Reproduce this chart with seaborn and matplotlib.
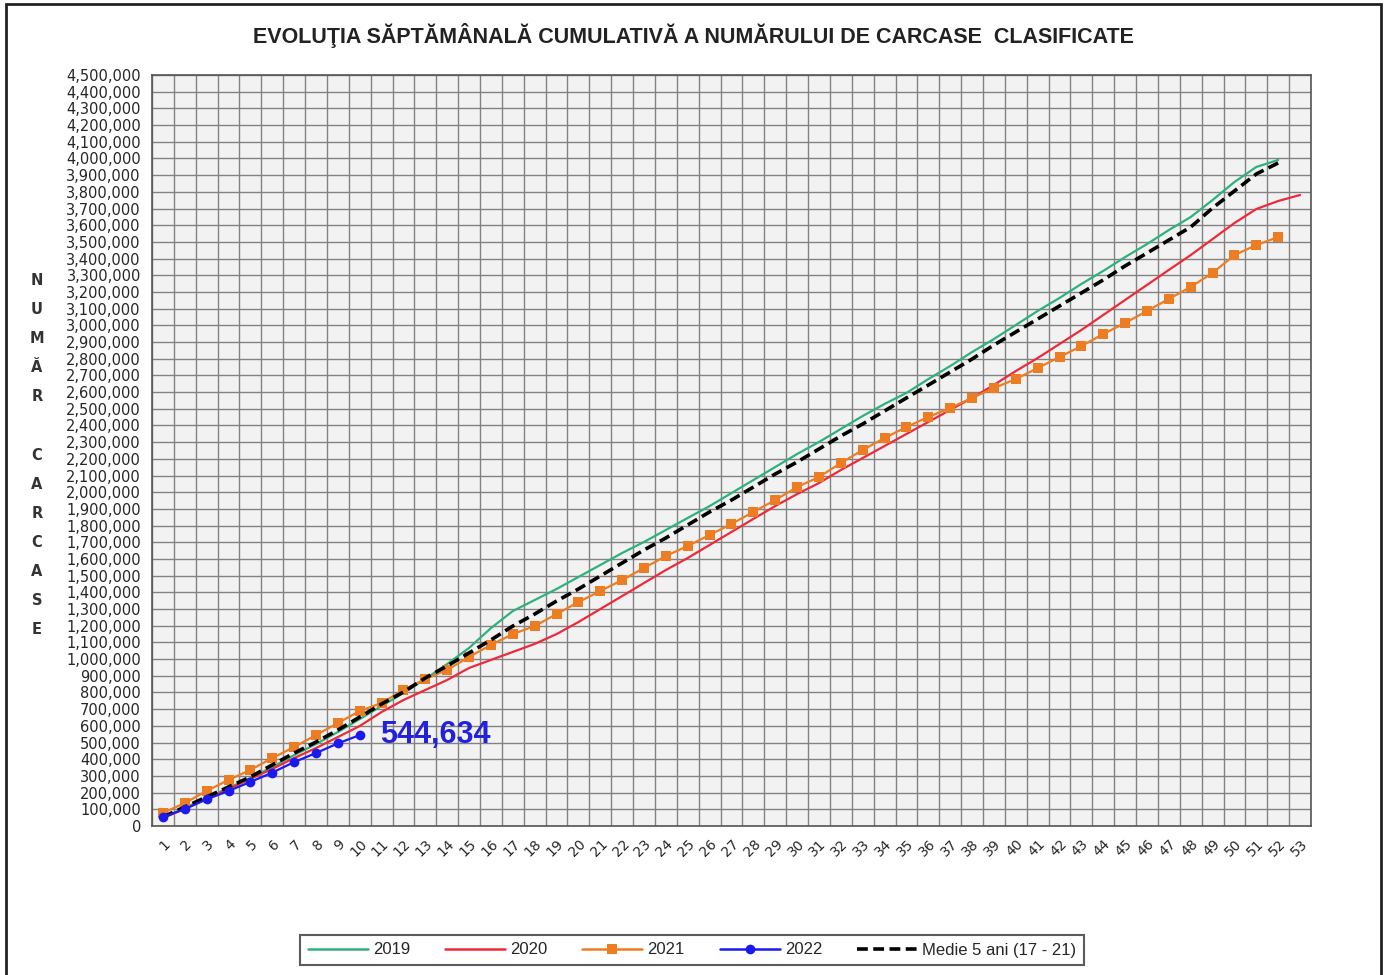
import matplotlib
matplotlib.use("Agg")
import matplotlib.pyplot as plt
import seaborn as sns
from matplotlib.ticker import FuncFormatter, MultipleLocator
from matplotlib.lines import Line2D
from matplotlib.patches import Rectangle

# Saptamani (1 - 53)
weeks = list(range(1, 54))

# Valori cumulative
v2019 = [48000, 108000, 168000, 228000, 288000, 354000, 425000, 491000, 563000, 641000,
         719000, 797000, 881000, 971000, 1067000, 1186000, 1288000, 1354000, 1420000, 1492000,
         1564000, 1636000, 1702000, 1774000, 1846000, 1917000, 1995000, 2073000, 2151000, 2229000,
         2301000, 2379000, 2457000, 2529000, 2595000, 2678000, 2756000, 2840000, 2918000, 3002000,
         3086000, 3164000, 3248000, 3326000, 3409000, 3487000, 3571000, 3649000, 3751000, 3859000,
         3949000, 3991000]
v2020 = [48000, 102000, 162000, 222000, 282000, 342000, 407000, 467000, 533000, 599000,
         683000, 755000, 815000, 875000, 947000, 995000, 1043000, 1091000, 1150000, 1222000,
         1300000, 1378000, 1456000, 1534000, 1606000, 1684000, 1762000, 1840000, 1917000, 1989000,
         2055000, 2133000, 2205000, 2277000, 2349000, 2421000, 2493000, 2565000, 2643000, 2726000,
         2804000, 2888000, 2972000, 3062000, 3152000, 3242000, 3332000, 3421000, 3517000, 3613000,
         3697000, 3745000, 3781000]
v2021 = [78000, 138000, 210000, 276000, 336000, 407000, 473000, 545000, 617000, 689000,
         737000, 815000, 881000, 935000, 1013000, 1085000, 1150000, 1198000, 1270000, 1342000,
         1408000, 1474000, 1546000, 1618000, 1678000, 1744000, 1810000, 1882000, 1953000, 2031000,
         2091000, 2175000, 2253000, 2325000, 2391000, 2451000, 2505000, 2565000, 2624000, 2678000,
         2744000, 2810000, 2876000, 2948000, 3014000, 3086000, 3158000, 3230000, 3314000, 3421000,
         3481000, 3529000]
v2022 = [54000, 102000, 160000, 210000, 264000, 320000, 383000, 437000, 495000, 544634]
medie = [54000, 114000, 174000, 234000, 294000, 366000, 437000, 503000, 575000, 653000,
         731000, 803000, 887000, 959000, 1037000, 1115000, 1198000, 1270000, 1348000, 1420000,
         1498000, 1576000, 1654000, 1726000, 1804000, 1882000, 1953000, 2031000, 2109000, 2181000,
         2259000, 2337000, 2409000, 2487000, 2565000, 2642000, 2720000, 2798000, 2882000, 2960000,
         3038000, 3116000, 3194000, 3272000, 3356000, 3433000, 3511000, 3589000, 3703000, 3805000,
         3907000, 3973000]

sns.set_style("white")
plt.rcParams['font.family'] = ['DejaVu Sans']

fig = plt.figure(figsize=(13.87, 9.75), dpi=100)
ax = fig.add_axes([152/1387, 1 - 826/975, (1311 - 152)/1387, (826 - 75)/975])
ax.set_facecolor('#f2f2f2')

c19, c20, c21, c22 = '#2eb27c', '#ee2a3a', '#ed7d22', '#1a1aee'

sns.lineplot(x=weeks[:len(v2019)], y=v2019, ax=ax, color=c19, linewidth=1.6, zorder=3)
sns.lineplot(x=weeks[:len(v2020)], y=v2020, ax=ax, color=c20, linewidth=1.6, zorder=3)
sns.lineplot(x=weeks[:len(v2021)], y=v2021, ax=ax, color=c21, linewidth=1.6,
             marker='s', markersize=7, markeredgewidth=0, zorder=4)
sns.lineplot(x=weeks[:len(medie)], y=medie, ax=ax, color='black', linewidth=2.6,
             linestyle=(0, (3, 1.5)), zorder=5)
sns.lineplot(x=weeks[:len(v2022)], y=v2022, ax=ax, color=c22, linewidth=1.6,
             marker='o', markersize=7, markeredgewidth=0, zorder=6)

ax.annotate(f"{v2022[-1]:,}", xy=(len(v2022), v2022[-1]), xytext=(15, 0),
            textcoords='offset points', ha='left', va='center',
            fontsize=22, fontweight='bold', color='#2222dd', family='Liberation Sans')

# axe
ax.set_xlim(0.5, 53.5)
ax.set_ylim(0, 4500000)
ax.yaxis.set_major_locator(MultipleLocator(100000))
ax.yaxis.set_major_formatter(FuncFormatter(lambda v, p: f"{int(v):,}"))
ax.set_xticks(weeks)
ax.set_xticklabels([str(w) for w in weeks], rotation=45, ha='right', rotation_mode='anchor')
ax.set_xticks([w + 0.5 for w in range(0, 54)], minor=True)
ax.tick_params(axis='x', which='major', length=0, labelsize=10, pad=8)
ax.tick_params(axis='x', which='minor', length=5, color='#666666')
ax.tick_params(axis='y', which='major', length=5, labelsize=10.5, pad=3, color='#666666')
ax.grid(True, axis='y', which='major', color='#828282', linewidth=1.0)
ax.grid(True, axis='x', which='minor', color='#828282', linewidth=1.0)
ax.set_axisbelow(True)
for s in ax.spines.values():
    s.set_color('#555555')
    s.set_linewidth(1.2)
ax.set_xlabel('')
ax.set_ylabel('')

fig.text(693/1387, 1 - 36/975,
         'EVOLUŢIA SĂPTĂMÂNALĂ CUMULATIVĂ A NUMĂRULUI DE CARCASE  CLASIFICATE',
         ha='center', va='center', fontsize=15.5, fontweight='bold', color='#222222',
         family='Liberation Sans')

letters = ['N', 'U', 'M', 'Ă', 'R', '', 'C', 'A', 'R', 'C', 'A', 'S', 'E']
fig.text(37/1387, 1 - 455/975, '\n'.join(letters), ha='center', va='center',
         fontsize=10.5, fontweight='bold', color='#333333', linespacing=2.18)

handles = [
    Line2D([], [], color=c19, lw=1.8),
    Line2D([], [], color=c20, lw=1.8),
    Line2D([], [], color=c21, lw=1.8, marker='s', markersize=7, markeredgewidth=0),
    Line2D([], [], color=c22, lw=1.8, marker='o', markersize=7, markeredgewidth=0),
    Line2D([], [], color='black', lw=2.6, linestyle=(0, (3, 1.5))),
]
labels = ['2019', '2020', '2021', '2022', 'Medie 5 ani (17 - 21)']
leg = fig.legend(handles, labels, loc='center', bbox_to_anchor=(692/1387, 1 - 950/975),
                 ncol=5, frameon=True, fancybox=False, edgecolor='#333333',
                 prop={'family': ['Liberation Sans Narrow', 'Liberation Sans'], 'size': 12},
                 handlelength=3.6, handletextpad=0.3, columnspacing=2.1,
                 borderpad=0.45)
leg.get_frame().set_linewidth(1.5)

fig.patches.append(Rectangle((6/1387, -0.01), (1381 - 6)/1387, 1 - 4/975 + 0.01,
                             transform=fig.transFigure, fill=False,
                             edgecolor='#222222', linewidth=2))

fig.savefig('out.png', dpi=100)
